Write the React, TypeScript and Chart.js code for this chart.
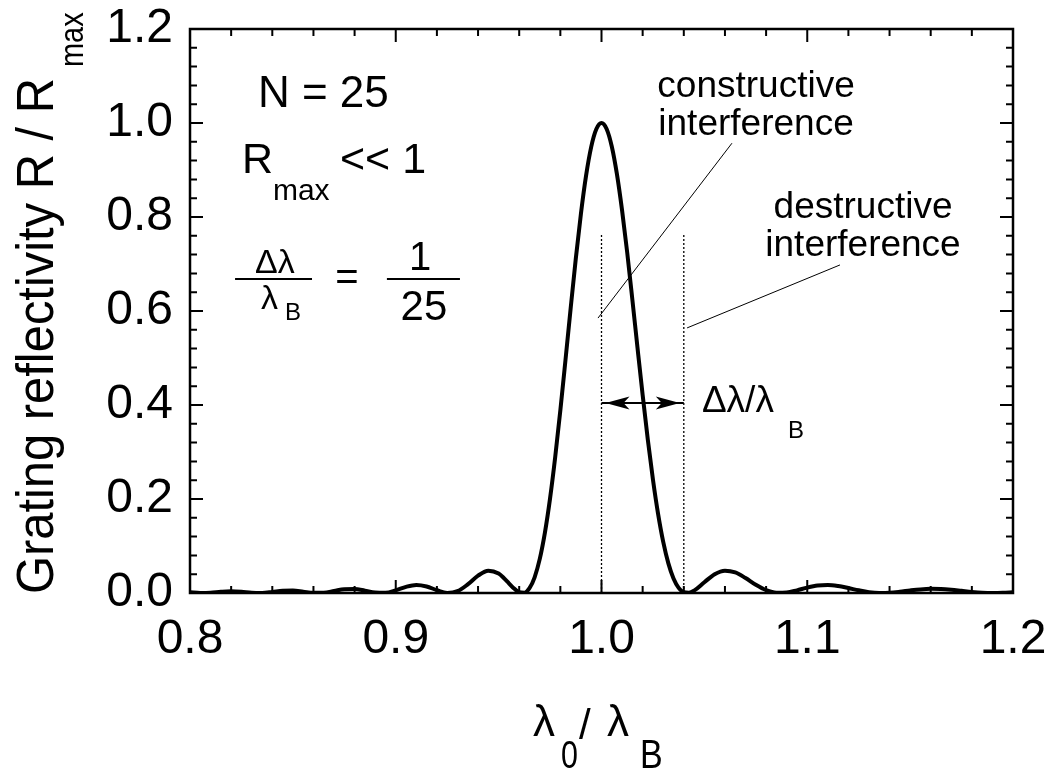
import React, { useEffect, useRef } from 'react';
import { Chart, registerables } from 'chart.js';

Chart.register(...registerables);

// ---------------- data ----------------
const lambdaRatio = [
  0.800, 0.805, 0.810, 0.815, 0.820, 0.825, 0.830, 0.835, 0.840, 0.845,
  0.850, 0.855, 0.860, 0.865, 0.870, 0.875, 0.880, 0.885, 0.890, 0.895,
  0.900, 0.905, 0.910, 0.915, 0.920, 0.925, 0.930, 0.935, 0.940, 0.945,
  0.950, 0.9525, 0.955, 0.9575, 0.960, 0.9625, 0.965, 0.9675, 0.970, 0.9725,
  0.975, 0.9775, 0.980, 0.9825, 0.985, 0.9875, 0.990, 0.9925, 0.995, 0.9975,
  1.000, 1.0025, 1.005, 1.0075, 1.010, 1.0125, 1.015, 1.0175, 1.020, 1.0225,
  1.025, 1.0275, 1.030, 1.0325, 1.035, 1.0375, 1.040, 1.0425, 1.045, 1.050,
  1.055, 1.060, 1.065, 1.070, 1.075, 1.080, 1.085, 1.090, 1.095, 1.100,
  1.105, 1.110, 1.115, 1.120, 1.125, 1.130, 1.135, 1.140, 1.145, 1.150,
  1.155, 1.160, 1.165, 1.170, 1.175, 1.180, 1.185, 1.190, 1.195, 1.200,
];

const reflectivity = [
  0.0016, 0.0001, 0.0006, 0.0027, 0.0039, 0.0028, 0.0006, 0.0002, 0.0023, 0.0050,
  0.0053, 0.0029, 0.0003, 0.0007, 0.0043, 0.0081, 0.0085, 0.0050, 0.0009, 0.0005,
  0.0057, 0.0131, 0.0170, 0.0139, 0.0059, 0.0002, 0.0038, 0.0183, 0.0368, 0.0474,
  0.0414, 0.0320, 0.0207, 0.0095, 0.0016, 0.0007, 0.0103, 0.0334, 0.0725, 0.1285,
  0.2013, 0.2892, 0.3889, 0.4960, 0.6054, 0.7110, 0.8071, 0.8880, 0.9492, 0.9871,
  1.0000, 0.9873, 0.9501, 0.8912, 0.8141, 0.7242, 0.6242, 0.5217, 0.4213, 0.3266,
  0.2414, 0.1683, 0.1086, 0.0630, 0.0309, 0.0110, 0.0016, 0.0004, 0.0050, 0.0229,
  0.0400, 0.0476, 0.0438, 0.0319, 0.0175, 0.0061, 0.0005, 0.0010, 0.0057, 0.0115,
  0.0158, 0.0170, 0.0148, 0.0105, 0.0057, 0.0018, 0.0001, 0.0005, 0.0026, 0.0054,
  0.0077, 0.0088, 0.0085, 0.0069, 0.0046, 0.0023, 0.0006, 0.0000, 0.0004, 0.0016,
];

const xTickLabels = ['0.8', '0.9', '1.0', '1.1', '1.2'];
const yTickLabels = ['0.0', '0.2', '0.4', '0.6', '0.8', '1.0', '1.2'];

// dotted guide lines at the Bragg peak and the first zero
const guideX = [1.0, 1.04];
const guideTop = 0.766;

// width arrow between the guides
const arrowX = [1.0, 1.04];
const arrowY = 0.404;

// leader lines [x, y] from label to guide
const constructiveLeader = [[1.0634, 0.957], [0.9983, 0.585]];
const destructiveLeader = [[1.1159, 0.698], [1.0416, 0.564]];

// ---------------- styling ----------------
const FONT = '"Liberation Sans", Arial, Helvetica, sans-serif';
const INK = '#000';

const isMajor = (labels: string[], v: number) =>
  labels.find((l) => Math.abs(parseFloat(l) - v) < 1e-6);

function txt(
  ctx: CanvasRenderingContext2D,
  s: string,
  x: number,
  y: number,
  size: number,
  align: CanvasTextAlign = 'left',
  baseline: CanvasTextBaseline = 'alphabetic',
  sx = 1,
) {
  ctx.save();
  ctx.font = `${size}px ${FONT}`;
  ctx.fillStyle = INK;
  ctx.textAlign = align;
  ctx.textBaseline = baseline;
  ctx.translate(x, y);
  ctx.scale(sx, 1);
  ctx.fillText(s, 0, 0);
  ctx.restore();
}

const decorPlugin = {
  id: 'decor',
  afterDatasetsDraw(chart: any) {
    const { ctx, chartArea: ca, scales } = chart;
    const xs = scales.x;
    const ys = scales.y;
    const px = (v: number) => xs.getPixelForValue(v);
    const py = (v: number) => ys.getPixelForValue(v);

    ctx.save();
    ctx.strokeStyle = INK;
    ctx.fillStyle = INK;

    // inward tick marks, mirrored on all four sides
    ctx.lineWidth = 2;
    ctx.beginPath();
    xs.ticks.forEach((t: any) => {
      const p = px(t.value);
      const len = isMajor(xTickLabels, t.value) ? 13 : 7;
      ctx.moveTo(p, ca.bottom);
      ctx.lineTo(p, ca.bottom - len);
      ctx.moveTo(p, ca.top);
      ctx.lineTo(p, ca.top + len);
    });
    ys.ticks.forEach((t: any) => {
      const p = py(t.value);
      const len = isMajor(yTickLabels, t.value) ? 13 : 7;
      ctx.moveTo(ca.left, p);
      ctx.lineTo(ca.left + len, p);
      ctx.moveTo(ca.right, p);
      ctx.lineTo(ca.right - len, p);
    });
    ctx.stroke();

    // frame
    ctx.lineWidth = 2.5;
    ctx.strokeRect(ca.left, ca.top, ca.right - ca.left, ca.bottom - ca.top);

    // arrow heads
    const ay = py(arrowY);
    const head = (tipX: number, dir: number) => {
      ctx.beginPath();
      ctx.moveTo(tipX, ay);
      ctx.lineTo(tipX - dir * 24, ay - 6.5);
      ctx.lineTo(tipX - dir * 18, ay);
      ctx.lineTo(tipX - dir * 24, ay + 6.5);
      ctx.closePath();
      ctx.fill();
    };
    head(px(arrowX[0]) + 4, -1);
    head(px(arrowX[1]) - 4, 1);

    // ---- annotations ----
    // N = 25
    txt(ctx, 'N = 25', px(0.833), py(1.034), 44);
    // R_max << 1
    txt(ctx, 'R', px(0.8253), py(0.8936), 43);
    txt(ctx, 'max', px(0.8403), py(0.836), 30);
    txt(ctx, '<< 1', px(0.8729), py(0.8936), 43);
    // Δλ/λB = 1/25
    ctx.lineWidth = 2;
    ctx.beginPath();
    ctx.moveTo(px(0.8219), py(0.668));
    ctx.lineTo(px(0.8593), py(0.668));
    ctx.moveTo(px(0.8957), py(0.668));
    ctx.lineTo(px(0.9312), py(0.668));
    ctx.stroke();
    txt(ctx, 'Δλ', px(0.8413), py(0.681), 34, 'center');
    txt(ctx, 'λ', px(0.8345), py(0.604), 34);
    txt(ctx, 'B', px(0.8462), py(0.581), 24);
    txt(ctx, '=', px(0.8763), py(0.668), 40, 'center', 'middle');
    txt(ctx, '1', px(0.9118), py(0.687), 40, 'center');
    txt(ctx, '25', px(0.9137), py(0.581), 42, 'center');

    // constructive / destructive
    txt(ctx, 'constructive', px(1.0751), py(1.0553), 37, 'center');
    txt(ctx, 'interference', px(1.0751), py(0.9745), 37, 'center');
    txt(ctx, 'destructive', px(1.1271), py(0.7979), 37, 'center');
    txt(ctx, 'interference', px(1.1271), py(0.717), 37, 'center');

    // Δλ/λB
    txt(ctx, 'Δλ/λ', px(1.0488), py(0.385), 37);
    txt(ctx, 'B', px(1.0906), py(0.33), 24);

    // ---- axis titles ----
    // y title (rotated)
    ctx.save();
    ctx.translate(53, 78);
    ctx.rotate(-Math.PI / 2);
    ctx.font = `52px ${FONT}`;
    ctx.fillStyle = INK;
    ctx.textAlign = 'right';
    ctx.textBaseline = 'alphabetic';
    ctx.save();
    ctx.scale(0.94, 1);
    ctx.fillText('Grating reflectivity R / R', 0, 0);
    ctx.restore();
    ctx.font = `34px ${FONT}`;
    ctx.textAlign = 'left';
    ctx.translate(11, 30);
    ctx.scale(0.85, 1);
    ctx.fillText('max', 0, 0);
    ctx.restore();

    // x title
    txt(ctx, 'λ', 533, 736, 44);
    txt(ctx, '0', 561, 768, 38, 'left', 'alphabetic', 0.8);
    txt(ctx, '/', 579, 739, 42);
    txt(ctx, 'λ', 607, 736, 44);
    txt(ctx, 'B', 640, 768, 40, 'left', 'alphabetic', 0.85);

    ctx.restore();
  },
};

export default function App() {
  const ref = useRef<HTMLCanvasElement | null>(null);

  useEffect(() => {
    if (!ref.current) return;
    const curve = lambdaRatio.map((x, i) => ({ x, y: reflectivity[i] }));
    const line = (pts: number[][], dash: number[], width: number) => ({
      data: pts.map(([x, y]) => ({ x, y })),
      showLine: true,
      borderColor: INK,
      borderWidth: width,
      borderDash: dash,
      pointRadius: 0,
      fill: false,
    });

    const chart = new Chart(ref.current, {
      type: 'scatter',
      data: {
        datasets: [
          line([[guideX[0], 0], [guideX[0], guideTop]], [2, 2], 1.3),
          line([[guideX[1], 0], [guideX[1], guideTop]], [2, 2], 1.3),
          line(constructiveLeader, [], 1),
          line(destructiveLeader, [], 1),
          line([[arrowX[0], arrowY], [arrowX[1], arrowY]], [], 2),
          {
            data: curve,
            showLine: true,
            borderColor: INK,
            borderWidth: 4,
            pointRadius: 0,
            cubicInterpolationMode: 'monotone',
            fill: false,
          },
        ],
      },
      options: {
        animation: false,
        responsive: false,
        devicePixelRatio: 1,
        events: [],
        layout: { padding: { top: 29, right: 38, left: 0, bottom: 0 } },
        plugins: { legend: { display: false }, tooltip: { enabled: false } },
        scales: {
          x: {
            type: 'linear',
            min: 0.8,
            max: 1.2,
            grid: { display: false, drawTicks: false },
            border: { display: false },
            afterFit: (s: any) => {
              s.height = 178;
              s.paddingLeft = 0;
              s.paddingRight = 0;
            },
            ticks: {
              stepSize: 0.02,
              autoSkip: false,
              maxRotation: 0,
              minRotation: 0,
              padding: 18,
              color: INK,
              font: { family: FONT, size: 48 },
              callback: (v: any) => isMajor(xTickLabels, Number(v)) ?? '',
            },
          },
          y: {
            type: 'linear',
            min: 0,
            max: 1.2,
            grid: { display: false, drawTicks: false },
            border: { display: false },
            afterFit: (s: any) => {
              s.width = 190;
              s.paddingTop = 0;
              s.paddingBottom = 0;
            },
            ticks: {
              stepSize: 0.04,
              autoSkip: false,
              padding: 17,
              color: INK,
              font: { family: FONT, size: 48 },
              callback: (v: any) => isMajor(yTickLabels, Number(v)) ?? '',
            },
          },
        },
      } as any,
      plugins: [decorPlugin],
    });
    return () => chart.destroy();
  }, []);

  return (
    <div style={{ position: 'fixed', left: 0, top: 0, width: 1051, height: 771, background: '#fff' }}>
      <canvas ref={ref} width={1051} height={771} style={{ width: 1051, height: 771, display: 'block' }} />
    </div>
  );
}
